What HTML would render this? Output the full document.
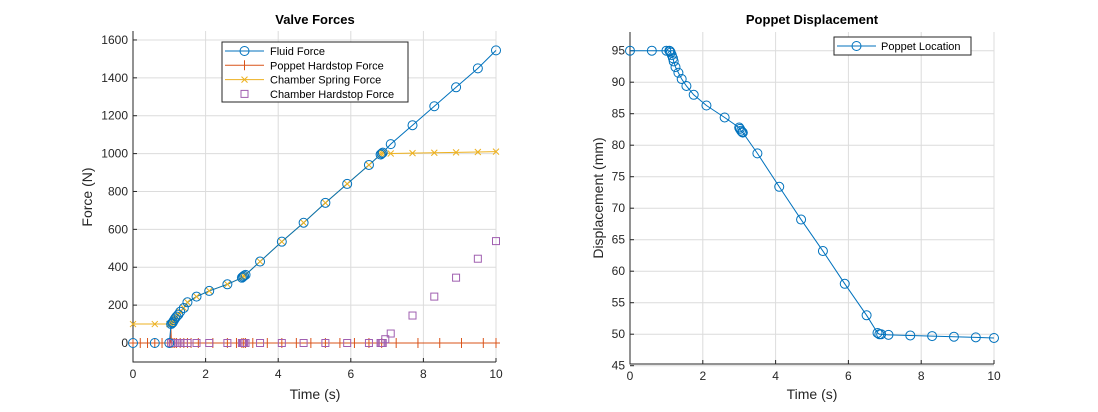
<!DOCTYPE html>
<html><head><meta charset="utf-8"><style>
html,body{margin:0;padding:0;background:#fff;width:1098px;height:412px;overflow:hidden}
svg text{font-family:"Liberation Sans",Arial,sans-serif;fill:#262626}
</style></head><body>
<svg id="s" width="1098" height="412" xmlns="http://www.w3.org/2000/svg"></svg>
<script>
const S=document.getElementById('s');let h='';
function L(x0,x1,y0,y1){return{x:t=>x0+(x1-x0)*t,y:v=>y0+(y1-y0)*v}}
// Left axes
const AX={l:133,r:496,t:31,b:362};
const fx=t=>133+36.3*t, fy=v=>343-0.1894*v;
const BX={l:630,r:994,t:32,b:364};
const gx=t=>630+36.4*t, gy=v=>50.7-(v-95)*6.3;
function grid(ax,xs,ys,xf,yf,xl,yl){
 xs.forEach(t=>{h+=`<line x1="${xf(t)}" y1="${ax.t}" x2="${xf(t)}" y2="${ax.b}" stroke="#dcdcdc"/>`;
  h+=`<line x1="${xf(t)}" y1="${ax.b}" x2="${xf(t)}" y2="${ax.b-4}" stroke="#262626"/>`;
  h+=`<text x="${xf(t)}" y="${ax.b+16}" font-size="12" text-anchor="middle">${t}</text>`});
 ys.forEach(v=>{h+=`<line x1="${ax.l}" y1="${yf(v)}" x2="${ax.r}" y2="${yf(v)}" stroke="#dcdcdc"/>`;
  h+=`<line x1="${ax.l}" y1="${yf(v)}" x2="${ax.l+4}" y2="${yf(v)}" stroke="#262626"/>`;
  h+=`<text x="${ax.l-5}" y="${yf(v)+4}" font-size="12" text-anchor="end">${v}</text>`});
 h+=`<polyline points="${ax.l},${ax.t} ${ax.l},${ax.b} ${ax.r},${ax.b}" fill="none" stroke="#262626"/>`;
}
grid(AX,[0,2,4,6,8,10],[0,200,400,600,800,1000,1200,1400,1600],fx,fy);
grid(BX,[0,2,4,6,8,10],[45,50,55,60,65,70,75,80,85,90,95],gx,gy);
h+=`<text x="315" y="24" font-size="13" font-weight="bold" text-anchor="middle" fill="#000" style="fill:#000">Valve Forces</text>`;
h+=`<text x="812" y="24" font-size="13" font-weight="bold" text-anchor="middle" style="fill:#000">Poppet Displacement</text>`;
h+=`<text x="315" y="399" font-size="14" text-anchor="middle">Time (s)</text>`;
h+=`<text x="812" y="399" font-size="14" text-anchor="middle">Time (s)</text>`;
h+=`<text transform="translate(92,197) rotate(-90)" font-size="14" text-anchor="middle">Force (N)</text>`;
h+=`<text transform="translate(603,198) rotate(-90)" font-size="14" text-anchor="middle">Displacement (mm)</text>`;
const T=[0,0.6,1.0,1.05,1.08,1.1,1.13,1.16,1.2,1.25,1.3,1.4,1.5,1.75,2.1,2.6,3.0,3.03,3.06,3.1,3.5,4.1,4.7,5.3,5.9,6.5,6.82,6.85,6.88,7.1,7.7,8.3,8.9,9.5,10];
const F=[0,0,0,100,105,110,120,130,140,150,165,185,215,245,275,310,345,350,355,360,430,535,635,740,840,940,995,1000,1005,1050,1150,1250,1350,1450,1545];
function pl(pts,col){h+=`<polyline points="${pts.map(p=>p.join(',')).join(' ')}" fill="none" stroke="${col}" stroke-width="1"/>`}
const blue='#0072bd',red='#d95319',yel='#edb120',pur='#a05fb0';
// poppet hardstop
pl([[fx(0),fy(0)],[fx(1.03),fy(0)],[fx(1.04),fy(100)],[fx(1.06),fy(0)],[fx(10),fy(0)]],red);
// chamber spring
const CS=T.map((t,i)=>[t,t<1.05?100:(t<=6.88?F[i]:1000+(t-6.88)*3.3)]);
pl(CS.map(p=>[fx(p[0]),fy(p[1])]),yel);
pl(T.map((t,i)=>[fx(t),fy(F[i])]),blue);
// markers
const ptT=[0,0.2,0.4,0.6,0.8,1.0,1.05,1.1,1.15,1.2,1.3,1.4,1.5,1.6,1.8,2.2,2.6,2.85,3.0,3.05,3.1,3.3,3.7,4.1,4.5,4.9,5.3,5.7,6.1,6.5,6.85,7.25,7.85,8.45,9.05,9.65,10];
ptT.forEach(t=>{const x=fx(t),y=fy(0);h+=`<line x1="${x}" y1="${y-5}" x2="${x}" y2="${y+5}" stroke="${red}"/><line x1="${x-4}" y1="${y}" x2="${x+4}" y2="${y}" stroke="${red}"/>`});
CS.forEach(p=>{const x=fx(p[0]),y=fy(p[1]);h+=`<path d="M${x-3},${y-3}L${x+3},${y+3}M${x-3},${y+3}L${x+3},${y-3}" stroke="${yel}"/>`});
[0.3,0.2,0.4,0.8].forEach(t=>{});
const sqT=[1.05,1.1,1.15,1.2,1.25,1.3,1.4,1.5,1.75,2.1,2.6,3.0,3.03,3.06,3.1,3.5,4.1,4.7,5.3,5.9,6.5,6.82,6.85,6.88],
 sqE=[[6.95,20],[7.1,50],[7.7,145],[8.3,245],[8.9,345],[9.5,445],[10,538]];
sqT.map(t=>[t,0]).concat(sqE).forEach(p=>{h+=`<rect x="${fx(p[0])-3.5}" y="${fy(p[1])-3.5}" width="7" height="7" fill="none" stroke="${pur}"/>`});
T.forEach((t,i)=>{h+=`<circle cx="${fx(t)}" cy="${fy(F[i])}" r="4.5" fill="none" stroke="${blue}"/>`});
// legend left
h+=`<rect x="222" y="42" width="186" height="60" fill="#fff" stroke="#262626"/>`;
const lg=[['Fluid Force',blue,'o'],['Poppet Hardstop Force',red,'+'],['Chamber Spring Force',yel,'x'],['Chamber Hardstop Force',pur,'s']];
lg.forEach((g,i)=>{const y=51+i*14.3;if(g[2]!='s')h+=`<line x1="225" y1="${y}" x2="264" y2="${y}" stroke="${g[1]}"/>`;
 if(g[2]=='o')h+=`<circle cx="244.5" cy="${y}" r="4.5" fill="none" stroke="${g[1]}"/>`;
 if(g[2]=='+')h+=`<line x1="244.5" y1="${y-5}" x2="244.5" y2="${y+5}" stroke="${g[1]}"/>`;
 if(g[2]=='x')h+=`<path d="M241.5,${y-3}L247.5,${y+3}M241.5,${y+3}L247.5,${y-3}" stroke="${g[1]}"/>`;
 if(g[2]=='s')h+=`<rect x="241" y="${y-3.5}" width="7" height="7" fill="none" stroke="${g[1]}"/>`;
 h+=`<text x="270" y="${y+4}" font-size="11" style="fill:#000">${g[0]}</text>`});
// right series
const P=[[0,95],[0.6,95],[1.0,95],[1.08,95],[1.1,94.9],[1.12,94.7],[1.15,94.3],[1.18,93.8],[1.2,93.3],[1.25,92.4],[1.33,91.5],[1.42,90.5],[1.55,89.4],[1.75,88],[2.1,86.3],[2.6,84.4],[3.0,82.8],[3.02,82.6],[3.05,82.3],[3.08,82.1],[3.1,82],[3.5,78.7],[4.1,73.4],[4.7,68.2],[5.3,63.2],[5.9,58],[6.5,53],[6.8,50.2],[6.85,50],[6.9,50],[7.1,49.9],[7.7,49.8],[8.3,49.7],[8.9,49.6],[9.5,49.5],[10,49.4]];
pl(P.map(p=>[gx(p[0]),gy(p[1])]),blue);
P.forEach(p=>{h+=`<circle cx="${gx(p[0])}" cy="${gy(p[1])}" r="4.5" fill="none" stroke="${blue}"/>`});
h+=`<rect x="834" y="37" width="137" height="18" fill="#fff" stroke="#262626"/>`;
h+=`<line x1="837" y1="46" x2="876" y2="46" stroke="${blue}"/><circle cx="856.5" cy="46" r="4.5" fill="none" stroke="${blue}"/>`;
h+=`<text x="881" y="50" font-size="11" style="fill:#000">Poppet Location</text>`;
S.innerHTML=h;
</script>
</body></html>
